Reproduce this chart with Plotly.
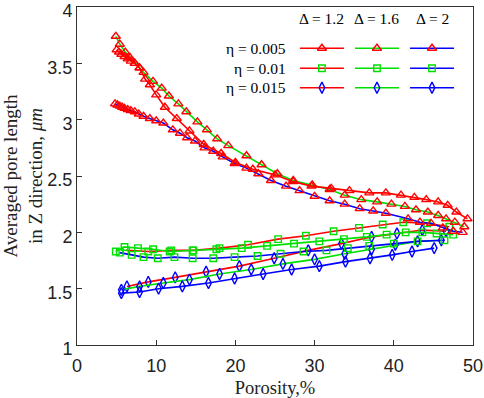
import plotly.graph_objects as go

# ---------------- data ----------------
# eta = 0.005 (triangles)
x_t_12 = [5.0, 5.3, 5.6, 6.0, 6.4, 6.8, 7.3, 7.9, 8.6, 9.2, 10.0, 11.1, 12.6, 14.2, 16.0, 18.2, 20.0, 22.2, 25.0, 27.3, 29.6, 32.1, 34.4, 36.9, 39.0, 40.9, 42.6, 44.1, 45.6, 46.8, 47.9, 49.3]
y_t_12 = [3.62, 3.60, 3.58, 3.56, 3.54, 3.52, 3.50, 3.46, 3.36, 3.31, 3.22, 3.11, 3.01, 2.90, 2.78, 2.70, 2.62, 2.56, 2.51, 2.45, 2.41, 2.39, 2.37, 2.35, 2.35, 2.33, 2.31, 2.29, 2.27, 2.24, 2.18, 2.12]
x_t_16 = [4.9, 5.4, 6.1, 6.7, 7.3, 7.9, 8.4, 9.6, 10.7, 11.6, 12.8, 13.8, 15.2, 16.4, 17.7, 19.1, 21.4, 23.3, 25.3, 27.3, 29.7, 31.9, 33.8, 35.9, 37.9, 39.7, 41.4, 42.8, 44.3, 45.6, 46.6, 47.7, 48.9]
y_t_16 = [3.74, 3.67, 3.60, 3.55, 3.50, 3.46, 3.42, 3.34, 3.28, 3.21, 3.14, 3.07, 2.98, 2.91, 2.83, 2.77, 2.68, 2.60, 2.52, 2.46, 2.42, 2.38, 2.33, 2.29, 2.27, 2.25, 2.23, 2.20, 2.18, 2.15, 2.12, 2.09, 2.05]
x_t_20 = [4.8, 5.1, 5.4, 5.7, 6.0, 6.4, 6.8, 7.3, 7.8, 8.4, 9.2, 10.0, 10.9, 12.1, 13.0, 13.9, 14.9, 16.1, 17.2, 18.4, 19.9, 21.4, 22.9, 24.5, 26.4, 28.1, 30.0, 31.9, 33.8, 35.7, 37.4, 39.0, 41.8, 43.3, 44.7, 46.2, 47.5, 48.7]
y_t_20 = [3.14, 3.13, 3.12, 3.11, 3.10, 3.09, 3.08, 3.07, 3.05, 3.03, 3.01, 2.99, 2.97, 2.91, 2.88, 2.84, 2.81, 2.75, 2.72, 2.67, 2.61, 2.57, 2.52, 2.46, 2.41, 2.37, 2.32, 2.28, 2.25, 2.21, 2.19, 2.17, 2.12, 2.09, 2.08, 2.04, 2.01, 2.00]

# eta = 0.01 (squares)
x_s_12 = [6.2, 9.0, 11.9, 14.7, 18.0, 21.6, 25.4, 28.9, 32.4, 35.6, 38.6, 41.2, 44.2, 47.0]
y_s_12 = [1.84, 1.83, 1.84, 1.84, 1.86, 1.89, 1.94, 1.97, 2.01, 2.04, 2.07, 2.09, 2.08, 2.05]
x_s_16 = [4.9, 6.0, 7.7, 9.6, 11.7, 14.6, 17.6, 20.8, 24.0, 27.4, 30.6, 33.7, 36.6, 39.1, 41.5, 43.6, 45.4, 47.5]
y_s_16 = [1.83, 1.87, 1.86, 1.85, 1.83, 1.84, 1.85, 1.86, 1.88, 1.90, 1.92, 1.94, 1.96, 1.98, 2.00, 2.00, 1.99, 1.98]
x_s_20 = [5.4, 6.9, 8.4, 10.2, 12.3, 14.6, 17.2, 19.9, 22.8, 25.7, 28.6, 31.5, 34.2, 36.9, 40.0, 43.0, 46.4]
y_s_20 = [1.82, 1.80, 1.78, 1.77, 1.78, 1.77, 1.77, 1.78, 1.79, 1.81, 1.83, 1.84, 1.86, 1.88, 1.90, 1.92, 1.93]

# eta = 0.015 (diamonds)
x_d_12 = [6.3, 9.0, 12.4, 16.3, 20.5, 24.9, 29.2, 33.4, 37.2, 40.4, 43.6, 46.6]
y_d_12 = [1.52, 1.56, 1.60, 1.65, 1.70, 1.77, 1.84, 1.90, 1.96, 1.99, 2.02, 2.01]
x_d_16 = [5.6, 7.9, 10.9, 14.2, 18.0, 22.0, 26.0, 30.0, 33.8, 37.2, 40.2, 43.0, 46.0]
y_d_16 = [1.49, 1.52, 1.55, 1.58, 1.63, 1.67, 1.72, 1.76, 1.81, 1.85, 1.89, 1.92, 1.93]
x_d_20 = [5.6, 7.9, 10.3, 13.3, 16.6, 19.9, 23.5, 27.1, 30.6, 33.9, 37.0, 39.8, 42.3, 45.1]
y_d_20 = [1.46, 1.47, 1.50, 1.52, 1.55, 1.59, 1.63, 1.67, 1.70, 1.74, 1.77, 1.80, 1.83, 1.86]

eta_labels = ["η = 0.005", "η = 0.01", "η = 0.015"]
delta_labels = ["Δ = 1.2", "Δ = 1.6", "Δ = 2"]
x_ticks = [0, 10, 20, 30, 40, 50]
y_ticks = [1, 1.5, 2, 2.5, 3, 3.5, 4]

# ---------------- styles ----------------
line_colors = ["#ff0000", "#00e000", "#0000ff"]          # by Delta
marker_syms = ["triangle-up-open", "square-open", "diamond-tall-open"]  # by eta
marker_cols = ["#ff0000", "#00e000", "#0000ff"]           # by eta
marker_sizes = [8, 6.5, 8]

series = [
    (x_d_12, y_d_12, 2, 0), (x_d_16, y_d_16, 2, 1), (x_d_20, y_d_20, 2, 2),
    (x_s_12, y_s_12, 1, 0), (x_s_16, y_s_16, 1, 1), (x_s_20, y_s_20, 1, 2),
    (x_t_20, y_t_20, 0, 2), (x_t_16, y_t_16, 0, 1), (x_t_12, y_t_12, 0, 0),
]

fig = go.Figure()
for xs, ys, ei, di in series:
    fig.add_trace(go.Scatter(
        x=xs, y=ys, mode="lines+markers",
        line=dict(color=line_colors[di], width=1.6),
        marker=dict(symbol=marker_syms[ei], color=marker_cols[ei], size=marker_sizes[ei],
                    line=dict(width=1.4, color=marker_cols[ei])),
        showlegend=False, hoverinfo="skip", cliponaxis=False))

# ---------------- custom grid legend (overlay axes in paper units) ----------------
row_y = [0.878, 0.819, 0.761]
col_x0 = [0.563, 0.702, 0.841]
col_x1 = [0.674, 0.813, 0.952]
for ei in range(3):
    for di in range(3):
        fig.add_trace(go.Scatter(
            x=[col_x0[di], (col_x0[di] + col_x1[di]) / 2, col_x1[di]],
            y=[row_y[ei]] * 3, xaxis="x2", yaxis="y2", mode="lines",
            line=dict(color=line_colors[di], width=1.6),
            showlegend=False, hoverinfo="skip"))
        fig.add_trace(go.Scatter(
            x=[(col_x0[di] + col_x1[di]) / 2], y=[row_y[ei]], xaxis="x2", yaxis="y2",
            mode="markers",
            marker=dict(symbol=marker_syms[ei], color=marker_cols[ei], size=marker_sizes[ei],
                        line=dict(width=1.4, color=marker_cols[ei])),
            showlegend=False, hoverinfo="skip"))

serif = "Liberation Serif"
sans = "Liberation Sans"
for ei, lab in enumerate(eta_labels):
    fig.add_annotation(x=0.532, y=row_y[ei], xref="paper", yref="paper", text=lab,
                       showarrow=False, xanchor="right", yanchor="middle",
                       font=dict(family=serif, size=15.5, color="black"))
for di, lab in enumerate(delta_labels):
    fig.add_annotation(x=(col_x0[di] + col_x1[di]) / 2, y=0.967, xref="paper", yref="paper",
                       text=lab, showarrow=False, xanchor="center", yanchor="middle",
                       font=dict(family=serif, size=15.5, color="black"))

axis_common = dict(showgrid=False, zeroline=False, showline=True, linecolor="#333333",
                   linewidth=1, mirror=True, ticks="inside", ticklen=5, tickcolor="#333333",
                   automargin=False, ticklabeloverflow="allow",
                   tickfont=dict(family=sans, size=18, color="#222222"))

fig.update_layout(
    width=484, height=398,
    margin=dict(l=77, r=11, t=7, b=53, autoexpand=False),
    paper_bgcolor="white", plot_bgcolor="white",
    font=dict(family=sans),
    xaxis=dict(range=[0, 50], tickvals=x_ticks, ticklabelstandoff=4, **axis_common,
               title=dict(text="Porosity,%", font=dict(family=serif, size=18.5, color="#222222"),
                          standoff=8)),
    yaxis=dict(range=[1, 4], tickvals=y_ticks, ticklabelshift=4, **axis_common,
               title=dict(text="Averaged pore length<br>in Z direction, <i>μm</i>",
                          font=dict(family=serif, size=19, color="#222222"), standoff=4)),
    xaxis2=dict(range=[0, 1], overlaying="x", visible=False),
    yaxis2=dict(range=[0, 1], overlaying="y", visible=False),
    showlegend=False,
)

fig.write_html("out.html", config={"displayModeBar": False},
               post_script="document.body.style.margin='0';document.body.style.overflow='hidden';")
